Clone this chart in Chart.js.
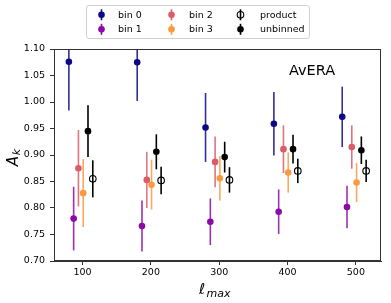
<!DOCTYPE html>
<html>
<head>
<meta charset="utf-8">
<script src="https://cdn.jsdelivr.net/npm/chart.js@4.4.1/dist/chart.umd.min.js"></script>
<style>
  html, body { margin: 0; padding: 0; background: #fff; }
  #wrap { width: 391px; height: 303px; }
</style>
</head>
<body>
<div id="wrap"><canvas id="chart" width="391" height="303"></canvas></div>
<script>
// Data
const lmax = [100, 200, 300, 400, 500];
const xTicks = [100, 200, 300, 400, 500];
const yTicks = [0.70, 0.75, 0.80, 0.85, 0.90, 0.95, 1.00, 1.05, 1.10];

const labels = ['bin 0', 'bin 1', 'bin 2', 'bin 3', 'unbinned', 'product'];
const offsets = [-20, -13, -6, 1, 8, 15];

const bin0 = [1.076, 1.075, 0.952, 0.959, 0.972];
const bin0Err = [0.092, 0.073, 0.065, 0.060, 0.057];
const bin1 = [0.780, 0.766, 0.774, 0.793, 0.802];
const bin1Err = [0.060, 0.048, 0.044, 0.042, 0.040];
const bin2 = [0.875, 0.853, 0.887, 0.911, 0.915];
const bin2Err = [0.072, 0.053, 0.048, 0.045, 0.041];
const bin3 = [0.828, 0.844, 0.856, 0.867, 0.848];
const bin3Err = [0.064, 0.047, 0.042, 0.038, 0.037];
const unbinned = [0.945, 0.906, 0.896, 0.911, 0.909];
const unbinnedErr = [0.049, 0.033, 0.029, 0.027, 0.026];
const product = [0.855, 0.852, 0.853, 0.870, 0.870];
const productErr = [0.035, 0.026, 0.024, 0.023, 0.021];

const colors = ['#0d0887', '#8b0aa5', '#db5c68', '#fa9a3f', '#000000', '#000000'];
const series = [bin0, bin1, bin2, bin3, unbinned, product];
const errors = [bin0Err, bin1Err, bin2Err, bin3Err, unbinnedErr, productErr];

const FONT = 'DejaVu Sans';
const AXIS = '#333';

const datasets = series.map((vals, i) => {
  const open = labels[i] === 'product';
  return {
    label: labels[i],
    data: vals.map((v, j) => ({ x: lmax[j] + offsets[i], y: v, err: errors[i][j] })),
    pointRadius: 3.3,
    pointHoverRadius: 3.3,
    pointBackgroundColor: open ? 'rgba(0,0,0,0)' : colors[i],
    pointBorderColor: colors[i],
    pointBorderWidth: open ? 1.1 : 0,
    showLine: false
  };
});

// vertical error bars, drawn through the scales
const errorBars = {
  id: 'errorBars',
  beforeDatasetsDraw(chart) {
    const { ctx, chartArea, scales: { x, y } } = chart;
    ctx.save();
    ctx.beginPath();
    ctx.rect(chartArea.left, chartArea.top, chartArea.right - chartArea.left, chartArea.bottom - chartArea.top);
    ctx.clip();
    ctx.lineWidth = 1.6;
    chart.data.datasets.forEach((ds, i) => {
      ctx.strokeStyle = colors[i];
      ctx.globalAlpha = i < 4 ? 0.85 : 1;
      ds.data.forEach(p => {
        const px = x.getPixelForValue(p.x);
        ctx.beginPath();
        ctx.moveTo(px, y.getPixelForValue(p.y - p.err));
        ctx.lineTo(px, y.getPixelForValue(p.y + p.err));
        ctx.stroke();
      });
    });
    ctx.restore();
  },
  afterDraw(chart) {
    const { ctx, chartArea } = chart;
    ctx.save();
    // frame
    ctx.strokeStyle = AXIS;
    ctx.lineWidth = 1;
    ctx.strokeRect(chartArea.left + 0.5, chartArea.top + 0.5,
      chartArea.right - chartArea.left - 1, chartArea.bottom - chartArea.top - 1);

    // annotation
    ctx.fillStyle = '#000';
    ctx.font = '14.5px ' + FONT;
    ctx.textAlign = 'center';
    ctx.textBaseline = 'middle';
    ctx.fillText('AvERA', 312, 71);

    // axis labels
    ctx.font = 'italic 15px ' + FONT;
    ctx.fillText('\u2113', 202, 290);
    ctx.font = 'italic 11px ' + FONT;
    ctx.textAlign = 'left';
    ctx.fillText('max', 206.5, 294);

    ctx.save();
    ctx.translate(14, 158);
    ctx.rotate(-Math.PI / 2);
    ctx.textAlign = 'center';
    ctx.font = 'italic 15px ' + FONT;
    ctx.fillText('A', -3, 0);
    ctx.font = 'italic 11px ' + FONT;
    ctx.fillText('k', 6, 3);
    ctx.restore();

    // legend
    ctx.fillStyle = 'rgba(255,255,255,0.8)';
    ctx.strokeStyle = '#d0d0d0';
    ctx.lineWidth = 1;
    ctx.beginPath();
    ctx.roundRect(86.5, 5.5, 223, 33, 2.5);
    ctx.fill();
    ctx.stroke();
    const cols = [[0, 1], [2, 3], [5, 4]];
    const mx = [101.5, 171.5, 240.5];
    const tx = [118, 189, 260];
    const ry = [14.8, 29.3];
    ctx.font = '9.5px ' + FONT;
    ctx.textBaseline = 'middle';
    ctx.textAlign = 'left';
    cols.forEach((col, c) => {
      col.forEach((idx, r) => {
        const cx = mx[c], cy = ry[r];
        ctx.strokeStyle = colors[idx];
        ctx.lineWidth = 1.6;
        ctx.beginPath();
        ctx.moveTo(cx, cy - 5.5);
        ctx.lineTo(cx, cy + 5.5);
        ctx.stroke();
        ctx.beginPath();
        ctx.arc(cx, cy, 3.3, 0, Math.PI * 2);
        if (labels[idx] === 'product') {
          ctx.lineWidth = 1.1;
          ctx.stroke();
        } else {
          ctx.fillStyle = colors[idx];
          ctx.fill();
        }
        ctx.fillStyle = '#000';
        ctx.fillText(labels[idx], tx[c], cy + 0.5);
      });
    });
    ctx.restore();
  }
};

new Chart(document.getElementById('chart'), {
  type: 'scatter',
  data: { datasets },
  plugins: [errorBars],
  options: {
    responsive: false,
    animation: false,
    events: [],
    layout: { padding: { left: 0, right: 10, top: 49, bottom: 0 } },
    plugins: { legend: { display: false }, tooltip: { enabled: false } },
    scales: {
      x: {
        type: 'linear',
        min: 58.25,
        max: 536.75,
        afterFit: s => { s.height = 42; },
        afterBuildTicks: s => { s.ticks = xTicks.map(v => ({ value: v })); },
        grid: { display: true, drawOnChartArea: false, tickLength: 4, tickColor: AXIS, tickWidth: 1 },
        border: { display: true, color: AXIS, width: 1 },
        ticks: { color: '#000', padding: 2, maxRotation: 0, font: { family: FONT, size: 9.5 } }
      },
      y: {
        type: 'linear',
        min: 0.70,
        max: 1.10,
        afterFit: s => { s.width = 54; },
        afterBuildTicks: s => { s.ticks = yTicks.map(v => ({ value: v })); },
        grid: { display: true, drawOnChartArea: false, tickLength: 4, tickColor: AXIS, tickWidth: 1 },
        border: { display: true, color: AXIS, width: 1 },
        ticks: {
          color: '#000', padding: 5, font: { family: FONT, size: 9.5 },
          callback: v => v.toFixed(2)
        }
      }
    }
  }
});
</script>
</body>
</html>
